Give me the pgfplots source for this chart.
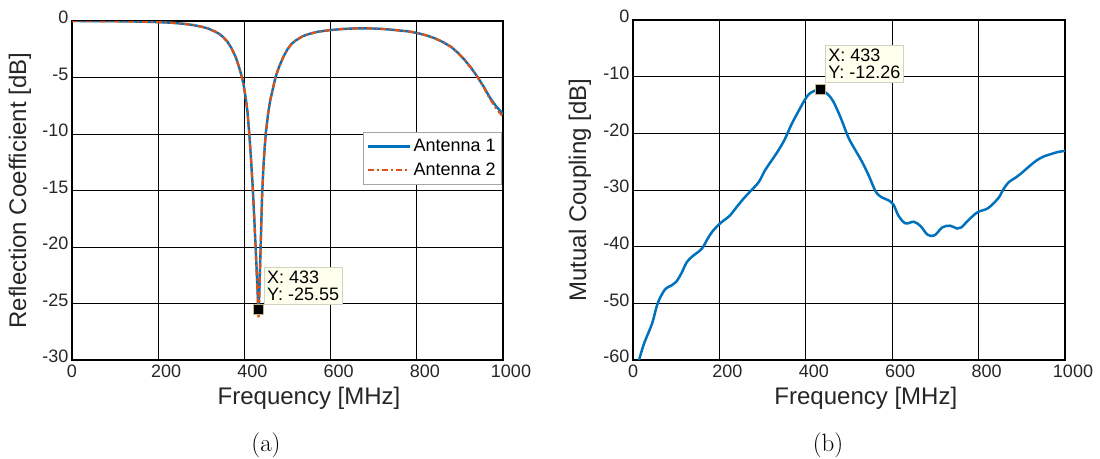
\documentclass[border=0pt]{standalone}
\usepackage{pgfplots}
\pgfplotsset{compat=1.18}
\usepackage{fontspec}
\newfontfamily\arial{Liberation Sans}
\definecolor{mblue}{rgb}{0,0.447,0.741}
\definecolor{morange}{rgb}{0.85,0.325,0.098}
\definecolor{tipbg}{RGB}{255,255,238}
\definecolor{tipedge}{RGB}{210,210,195}
\definecolor{txtgray}{RGB}{38,38,38}
\definecolor{mkedge}{RGB}{200,185,140}
\tikzset{
  tip/.style={anchor=south west, fill=tipbg, draw=tipedge, line width=0.8pt,
    align=left, inner xsep=3pt, inner ysep=3.5pt, font=\arial\fontsize{18}{17}\selectfont, text=black},
}
\pgfplotsset{
  mystyle/.style={
    scale only axis,
    xmin=0, xmax=1000,
    xtick={0,200,400,600,800,1000},
    xticklabels={0\hspace*{16pt},200,400,600,800,1000},
    grid=major,
    major grid style={black, line width=0.9pt},
    axis line style={black, line width=1.1pt},
    major tick length=0pt,
    tick label style={font=\arial\fontsize{18}{18}\selectfont, text=txtgray},
    xticklabel style={anchor=north, xshift=8pt, yshift=-1pt},
    yticklabel style={yshift=3.5pt},
    label style={font=\arial\fontsize{24}{24}\selectfont, text=txtgray},
  },
}
\begin{document}
\begin{tikzpicture}
\useasboundingbox (0,0) rectangle (1100pt,-458pt);
\begin{axis}[mystyle,
  at={(72pt,-360pt)}, anchor=south west,
  width=431pt, height=339pt,
  ymin=-30, ymax=0,
  ytick={-30,-25,-20,-15,-10,-5,0},
  yticklabels={-30,-25,-20,-15,-10,-5,0},
  xlabel={Frequency [MHz]},
  ylabel={Reflection Coefficient [dB]},
  xlabel style={at={(axis description cs:0.55,-0.112)}, anchor=center},
  ylabel style={at={(axis description cs:-0.121,0.5)}, anchor=center},
  legend style={at={(0.998,0.6726)}, anchor=north east, draw=gray!70, line width=0.8pt,
    font=\arial\fontsize{18}{18}\selectfont, fill=white, inner xsep=4pt, inner ysep=5pt,
    row sep=6pt, cells={anchor=west}},
  legend image code/.code={\draw[#1] (0pt,0pt) -- (42pt,0pt);},
]
\addplot[mblue, line width=2.4pt] coordinates {
(0,0) (50,-0.01) (100,-0.02) (150,-0.05) (200,-0.1) (230,-0.15) (260,-0.25) (280,-0.35)
(300,-0.5) (315,-0.65) (330,-0.9) (340,-1.1) (350,-1.4) (360,-1.8) (370,-2.4) (380,-3.2)
(387,-4.0) (393,-4.8) (398,-5.6) (403,-6.8) (407,-8.0) (411,-9.8) (415,-12) (419,-14.5)
(423,-17.5) (427,-20.8) (431,-24.2) (433,-25.55) (435,-23.5) (438,-19.5) (441,-15.5)
(444,-13) (447,-11.2) (450,-9.8) (455,-8.2) (460,-7.0) (466,-6.0) (472,-5.0) (480,-4.1)
(490,-3.2) (500,-2.5) (510,-2.0) (520,-1.7) (535,-1.35) (550,-1.15) (570,-0.95) (600,-0.8)
(630,-0.7) (660,-0.65) (690,-0.65) (720,-0.7) (750,-0.8) (780,-0.92) (800,-1.05)
(820,-1.25) (840,-1.5) (860,-1.85) (880,-2.3) (895,-2.8) (910,-3.4) (925,-4.1) (940,-4.9)
(955,-5.8) (970,-6.8) (985,-7.6) (1000,-8.2)
};
\addlegendentry{Antenna 1}
\addplot[morange, line width=2.2pt, dash pattern=on 6pt off 3pt on 2pt off 3pt] coordinates {
(0,0) (50,-0.01) (100,-0.02) (150,-0.05) (200,-0.1) (230,-0.15) (260,-0.25) (280,-0.35)
(300,-0.5) (315,-0.65) (330,-0.9) (340,-1.1) (350,-1.4) (360,-1.8) (370,-2.4) (380,-3.2)
(387,-4.0) (393,-4.8) (398,-5.6) (403,-6.8) (407,-8.0) (411,-9.8) (415,-12) (419,-14.5)
(423,-17.6) (427,-21.0) (431,-24.8) (433,-26.3) (435,-24.0) (438,-19.8) (441,-15.6)
(444,-13) (447,-11.2) (450,-9.8) (455,-8.2) (460,-7.0) (466,-6.0) (472,-5.0) (480,-4.1)
(490,-3.2) (500,-2.5) (510,-2.0) (520,-1.7) (535,-1.35) (550,-1.15) (570,-0.95) (600,-0.8)
(630,-0.7) (660,-0.65) (690,-0.65) (720,-0.7) (750,-0.8) (780,-0.92) (800,-1.05)
(820,-1.25) (840,-1.5) (860,-1.85) (880,-2.3) (895,-2.8) (910,-3.4) (925,-4.1) (940,-4.9)
(955,-5.85) (970,-6.9) (985,-7.8) (1000,-8.45)
};
\addlegendentry{Antenna 2}
\addplot[only marks, mark=square*, mark size=5pt, mark options={fill=black, draw=mkedge, line width=0.8pt}, forget plot]
  coordinates {(433,-25.55)};
\node[tip] at ([xshift=5pt, yshift=5pt]axis cs:433,-25.55) {X: 433\\Y: -25.55};
\end{axis}
\node[font=\fontsize{25}{25}\selectfont] at (266pt,-445pt) {(a)};

\begin{axis}[mystyle,
  at={(633pt,-360pt)}, anchor=south west,
  width=432pt, height=340pt,
  ymin=-60, ymax=0,
  ytick={-60,-50,-40,-30,-20,-10,0},
  yticklabels={-60,-50,-40,-30,-20,-10,0},
  xlabel={Frequency [MHz]},
  ylabel={Mutual Coupling [dB]},
  xlabel style={at={(axis description cs:0.539,-0.112)}, anchor=center},
  ylabel style={at={(axis description cs:-0.123,0.5)}, anchor=center},
]
\addplot[mblue, line width=2.5pt, smooth, tension=0.55] coordinates {
(14,-60) (26,-57) (44,-53.6) (55,-50.5) (64,-48.8) (76,-47.4) (90,-46.8) (100,-46.2) (112,-44.7)
(124,-42.8) (136,-41.8) (148,-41.1) (160,-40.3) (172,-38.7) (184,-37.3) (203,-35.8)
(223,-34.6) (240,-33.0) (255,-31.6) (272,-30.2) (291,-28.6) (305,-26.6) (319,-25)
(335,-23.2) (351,-21.1) (367,-18.4) (383,-16.1) (396,-14.3) (407,-13.1) (420,-12.5) (433,-12.26)
(448,-12.9) (463,-14.3) (481,-17.3) (499,-20.8) (515,-23.0) (530,-25) (546,-27.5) (562,-30.3)
(576,-31.3) (591,-31.8) (603,-32.6) (615,-34.6) (631,-35.9) (650,-35.6) (666,-36.4) (682,-37.9) (698,-38.0)
(716,-36.6) (734,-36.3) (750,-36.8) (760,-36.6) (778,-35.2) (798,-33.9) (822,-33.2)
(846,-31.4) (858,-29.8) (870,-28.6) (884,-27.9) (898,-27.1) (916,-25.9) (934,-24.8) (950,-24.1) (966,-23.7) (983,-23.3)
(1000,-23.1)
};
\addplot[only marks, mark=square*, mark size=5pt, mark options={fill=black, draw=mkedge, line width=0.8pt}]
  coordinates {(433,-12.26)};
\node[tip] at ([xshift=5pt, yshift=7pt]axis cs:433,-12.26) {X: 433\\Y: -12.26};
\end{axis}
\node[font=\fontsize{25}{25}\selectfont] at (828pt,-445pt) {(b)};
\end{tikzpicture}
\end{document}
